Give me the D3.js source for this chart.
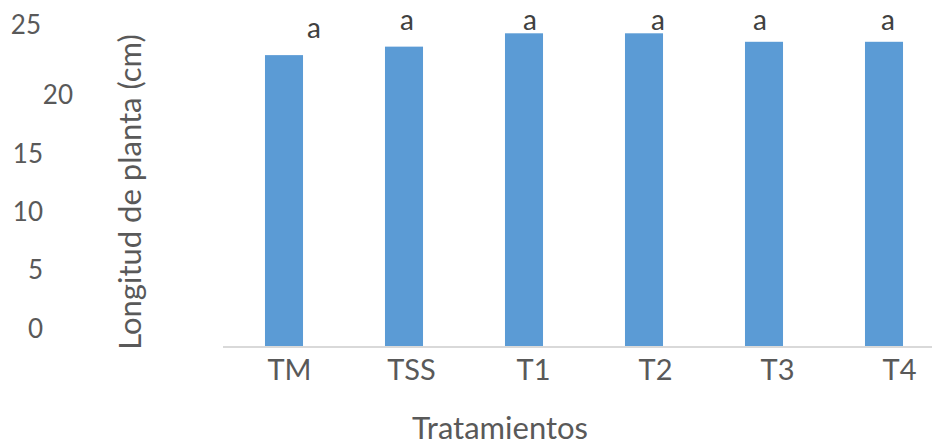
<!DOCTYPE html>
<html>
<head>
<meta charset="utf-8">
<script src="https://cdn.jsdelivr.net/npm/d3@7"></script>
<style>
  html, body { margin: 0; padding: 0; background: #fff; }
  svg { display: block; }
  text { font-family: Lato, "Open Sans", sans-serif; }
</style>
</head>
<body>
<div id="chart"></div>
<script>
// Treatments and mean plant length (cm)
const categories = ["TM", "TSS", "T1", "T2", "T3", "T4"];
const lengths = [24.0, 24.7, 25.8, 25.8, 25.1, 25.1];
const groups = ["a", "a", "a", "a", "a", "a"];
const yTicks = [0, 5, 10, 15, 20, 25];

const W = 932, H = 441;
const svg = d3.select("#chart").append("svg")
  .attr("width", W).attr("height", H);

// Bar scales
const x = d3.scaleBand().domain(categories).range([224, 944]).paddingInner(0.683).paddingOuter(0.3415);
const y = d3.scaleLinear().domain([0, 25]).range([346, 43]);

// Bars
svg.append("g").selectAll("rect")
  .data(categories)
  .join("rect")
  .attr("x", d => x(d))
  .attr("width", x.bandwidth())
  .attr("y", (d, i) => y(lengths[i]))
  .attr("height", (d, i) => y(0) - y(lengths[i]))
  .attr("fill", "#5b9bd5");

// Baseline
svg.append("line")
  .attr("x1", 223).attr("x2", W)
  .attr("y1", 347).attr("y2", 347)
  .attr("stroke", "#d9d9d9").attr("stroke-width", 2);

// Significance letters above the bars
const letterDx = [30, 3, 6, 14, -4, 4];
svg.append("g").selectAll("text")
  .data(categories)
  .join("text")
  .attr("x", (d, i) => x(d) + x.bandwidth() / 2 + letterDx[i])
  .attr("y", (d, i) => i === 0 ? 38 : 30)
  .attr("text-anchor", "middle")
  .attr("font-size", 28)
  .attr("fill", "#404040")
  .text((d, i) => groups[i]);

// Category labels
const xLab = d3.scalePoint().domain(categories).range([289, 899]);
svg.append("g")
  .attr("transform", "translate(0,380)")
  .call(d3.axisBottom(xLab).tickSize(0).tickPadding(0))
  .call(g => g.select(".domain").remove())
  .selectAll("text")
  .attr("dy", 0)
  .attr("font-size", 29)
  .attr("font-family", "Lato, 'Open Sans', sans-serif")
  .attr("fill", "#595959");

// Value labels on the left
const yLab = d3.scaleLinear().domain([0, 20]).range([328, 95]);
const yAxis = svg.append("g")
  .attr("transform", "translate(43,0)")
  .call(d3.axisLeft(yLab).tickValues(yTicks).tickSize(0).tickPadding(0))
  .call(g => g.select(".domain").remove());
yAxis.selectAll("text")
  .attr("font-size", 26)
  .attr("font-family", "Lato, 'Open Sans', sans-serif")
  .attr("fill", "#595959")
  .attr("dy", "0.35em");
yAxis.selectAll(".tick")
  .filter(d => d === 25)
  .attr("transform", "translate(-2,25)");
yAxis.selectAll(".tick")
  .filter(d => d === 20)
  .attr("transform", `translate(30,${yLab(20)})`);

// Axis titles
svg.append("text")
  .attr("transform", "translate(141,192) rotate(-90)")
  .attr("text-anchor", "middle")
  .attr("font-size", 31)
  .attr("fill", "#595959")
  .text("Longitud de planta (cm)");

svg.append("text")
  .attr("x", 500).attr("y", 439)
  .attr("text-anchor", "middle")
  .attr("font-size", 31)
  .attr("fill", "#595959")
  .text("Tratamientos");
</script>
</body>
</html>
